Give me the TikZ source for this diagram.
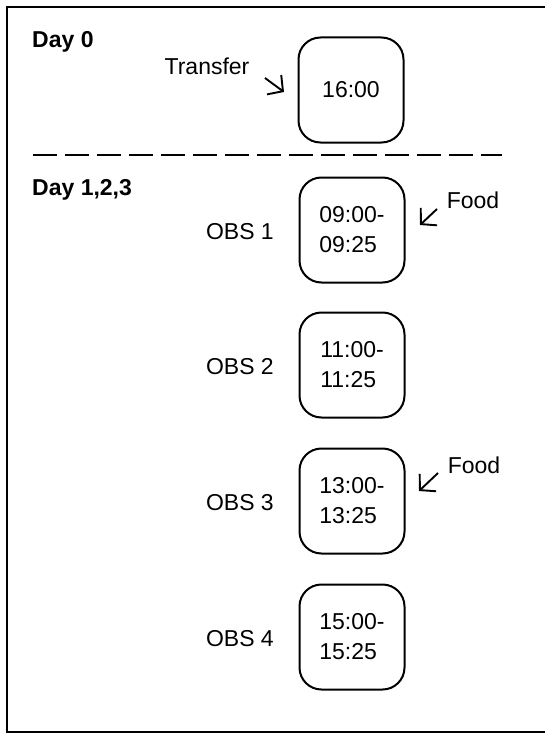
\documentclass[tikz,border=0pt]{standalone}
\usepackage{fontspec}
\setmainfont{Liberation Sans}
\usetikzlibrary{arrows.meta}

\begin{document}
\begin{tikzpicture}[x=1pt,y=-1pt]
\tikzstyle{every node}=[inner sep=0pt, font=\fontsize{23}{30}\selectfont]
\tikzstyle{slot}=[draw, line width=2pt, rounded corners=22pt, minimum width=105pt, minimum height=105pt, align=left]
\tikzstyle{cue}=[line width=1.9pt, -{Straight Barb[length=11pt,width=24pt]}]
\useasboundingbox (0,0) rectangle (544,733);
\draw[line width=1.6pt] (548,7) -- (7,7) -- (7,732) -- (548,732);
\draw (32,42) node (d0) [anchor=west, font=\fontsize{23}{30}\selectfont\bfseries] {Day 0};
\draw (32,190) node (d123) [anchor=west, font=\fontsize{23}{30}\selectfont\bfseries] {Day 1,2,3};
\draw[line width=2.5pt, dash pattern=on 24pt off 8pt] (33,155) -- (502,155);
\draw (351,90) node (b0) [slot] {16:00};
\draw (352,230) node (b1) [slot] {09:00-\\09:25};
\draw (352,365) node (b2) [slot] {11:00-\\11:25};
\draw (352,501) node (b3) [slot] {13:00-\\13:25};
\draw (352,637) node (b4) [slot] {15:00-\\15:25};
\draw (274,232) node (o1) [anchor=east] {OBS 1};
\draw (274,367) node (o2) [anchor=east] {OBS 2};
\draw (274,503) node (o3) [anchor=east] {OBS 3};
\draw (274,639) node (o4) [anchor=east] {OBS 4};
\draw (207,66) node (tr) {Transfer};
\draw (473,200) node (f1) {Food};
\draw (474,465) node (f3) {Food};
\coordinate (tra) at (265,78);
\coordinate (trb) at (284,92);
\coordinate (f1a) at (437,209);
\coordinate (f1b) at (420,225);
\coordinate (f3a) at (438,473);
\coordinate (f3b) at (419,491);
\draw[cue] (tra) -- (trb);
\draw[cue] (f1a) -- (f1b);
\draw[cue] (f3a) -- (f3b);
\end{tikzpicture}
\end{document}
